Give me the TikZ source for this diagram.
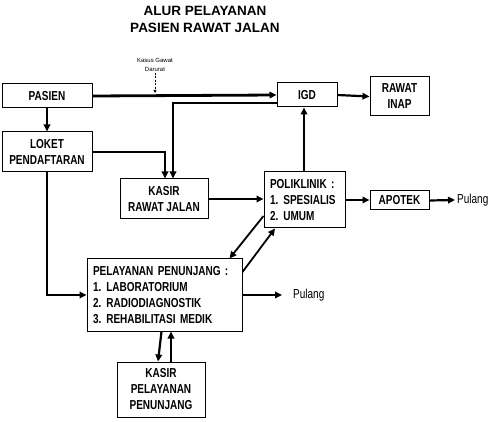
\documentclass[tikz,border=0pt]{standalone}
\usepackage{fontspec}
\setmainfont{Liberation Sans}
\newfontfamily\narrowsans[FakeStretch=0.77]{Liberation Sans}
\usetikzlibrary{arrows.meta}
\newcommand{\butir}[2]{\mbox{#1.\hspace{5pt}#2}}
\begin{document}
\begin{tikzpicture}[x=1pt,y=-1pt,>={Triangle[length=7pt,width=6.5pt]},line join=miter,
	kotak/.style={draw,line width=1pt,inner sep=0pt,align=center,font=\narrowsans\bfseries\fontsize{13}{16}\selectfont},
	daftar/.style={kotak,align=left,inner xsep=6pt},
	alur/.style={->,line width=2.2pt},
	tebal/.style={->,line width=2.8pt},
	ket/.style={inner sep=2pt,font=\narrowsans\fontsize{13}{16}\selectfont}]
	\useasboundingbox (0,0) rectangle (493,422);
	\node[font=\bfseries\fontsize{13.5}{17}\selectfont,align=center] (judul) at (205,19.5) {ALUR PELAYANAN\\PASIEN RAWAT JALAN};
	% kotak
	\node[kotak,minimum width=90pt,minimum height=24pt] (pasien) at (47,96) {PASIEN};
	\node[kotak,minimum width=60pt,minimum height=24pt] (igd) at (307,95) {IGD};
	\node[kotak,minimum width=59pt,minimum height=39pt] (inap) at (399.5,96.5) {RAWAT\\INAP};
	\node[kotak,minimum width=90pt,minimum height=40pt] (loket) at (47,152) {LOKET\\PENDAFTARAN};
	\node[kotak,minimum width=88pt,minimum height=40pt] (kasirrj) at (164,199) {KASIR\\RAWAT JALAN};
	\node[daftar,text width=69pt,minimum height=56pt] (poli) at (304.5,200) {\mbox{POLIKLINIK :}\\\butir{1}{SPESIALIS}\\\butir{2}{UMUM}};
	\node[kotak,minimum width=59pt,minimum height=19pt] (apotek) at (399.5,200.5) {APOTEK};
	\node[daftar,text width=143pt,minimum height=72pt] (pp) at (164.5,295) {\mbox{PELAYANAN PENUNJANG :}\\\butir{1}{LABORATORIUM}\\\butir{2}{RADIODIAGNOSTIK}\\\butir{3}{REHABILITASI MEDIK}};
	\node[kotak,minimum width=88pt,minimum height=55pt] (kasirpp) at (161,389.5) {KASIR\\PELAYANAN\\PENUNJANG};
	\node[ket,anchor=west] (pulanga) at (455,200) {Pulang};
	\node[ket,anchor=west] (pulangb) at (291,295) {Pulang};
	\node[font=\fontsize{6}{9}\selectfont,align=center,inner sep=1pt] (kasus) at (155,65) {Kasus Gawat\\Darurat};
	\coordinate (kasusujung) at (155,93);
	% alur
	\draw[->,line width=0.6pt,dash pattern=on 2pt off 1.5pt,>={Triangle[length=3pt,width=3pt]}] (kasus.south)--(kasusujung);
	\draw[tebal] (pasien.east)--(igd.west);
	\draw[alur] (igd.east)--(inap.west);
	\draw[alur] (pasien.south)--(loket.north);
	\draw[alur] ([yshift=-8pt]igd.west)-|([xshift=9pt]kasirrj.north);
	\draw[alur] (loket.east)-|([xshift=1pt]kasirrj.north);
	\draw[tebal] (kasirrj.east)--(kasirrj.east-|poli.west);
	\draw[alur] ([xshift=-0.5pt]poli.north)--([xshift=-0.5pt]poli.north|-igd.south);
	\draw[tebal] (poli.east)--(poli.east-|apotek.west);
	\draw[alur] (apotek.east)--(pulanga.west);
	\draw[alur] (loket.south)|-(pp.west);
	\draw[alur] (pp.east)--([xshift=-9pt]pulangb.west);
	\draw[alur,line width=1.8pt] ([yshift=-16pt]poli.west)--([xshift=65pt]pp.north);
	\draw[alur,line width=1.8pt] ([yshift=23pt]pp.east)--([xshift=-29.5pt]poli.south);
	\draw[alur] ([xshift=-3pt]pp.south)--([xshift=-3pt]kasirpp.north);
	\draw[alur] ([xshift=10pt]kasirpp.north)--([xshift=10pt]kasirpp.north|-pp.south);
\end{tikzpicture}
\end{document}
